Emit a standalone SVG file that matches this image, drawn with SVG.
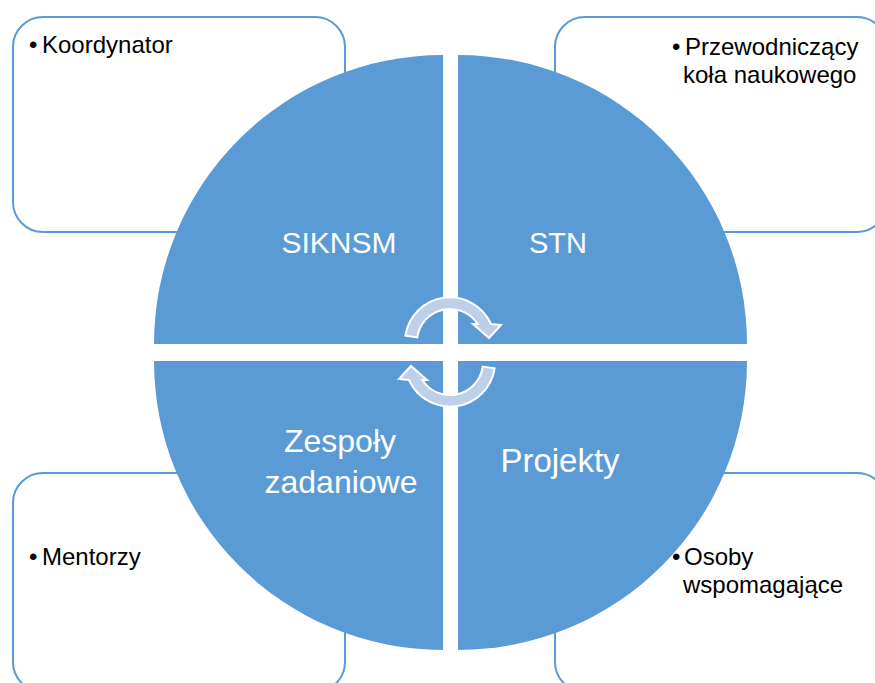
<svg xmlns="http://www.w3.org/2000/svg" width="875" height="683" viewBox="0 0 875 683">
  <style>
    .box { fill: #ffffff; stroke: #5b9bd5; stroke-width: 2; }
    .quad { fill: #5b9bd5; }
    .btxt { font-family: "Liberation Sans", Arial, sans-serif; font-size: 24px; fill: #000000; }
    .qtxt { font-family: "Liberation Sans", Arial, sans-serif; fill: #ffffff; text-anchor: middle; }
    .arrow { fill: #bdd0ea; stroke: #ffffff; stroke-width: 2; stroke-linejoin: miter; }
  </style>
  <defs>
    <path id="cycArrow" d="M 405.4,335.7 A 45 45 0 0 1 491,324 L 501,325 L 489,338 L 473,324 L 477.7,324 A 33 33 0 0 0 417.3,337.4 Z"/>
  </defs>
  <rect width="875" height="683" fill="#ffffff"/>

  <g id="box-koordynator">
    <rect class="box" x="13" y="17" width="332" height="215" rx="30" ry="30"/>
    <text class="btxt" y="53"><tspan x="29">•</tspan><tspan x="42">Koordynator</tspan></text>
  </g>
  <g id="box-przewodniczacy">
    <rect class="box" x="555" y="17" width="332" height="215" rx="30" ry="30"/>
    <text class="btxt" y="55"><tspan x="672">•</tspan><tspan x="685">Przewodniczący</tspan><tspan x="683" y="83">koła naukowego</tspan></text>
  </g>
  <g id="box-mentorzy">
    <rect class="box" x="13" y="473" width="332" height="219" rx="30" ry="30"/>
    <text class="btxt" y="565"><tspan x="29">•</tspan><tspan x="42">Mentorzy</tspan></text>
  </g>
  <g id="box-osoby">
    <rect class="box" x="555" y="473" width="332" height="219" rx="30" ry="30"/>
    <text class="btxt" y="565"><tspan x="672">•</tspan><tspan x="684">Osoby</tspan><tspan x="683" y="593">wspomagające</tspan></text>
  </g>

  <g id="q-siknsm">
    <path class="quad" d="M 443,344 L 154,344 A 289 289 0 0 1 443,55 Z"/>
    <text class="qtxt" x="339" y="253" font-size="30">SIKNSM</text>
  </g>
  <g id="q-stn">
    <path class="quad" d="M 458,344 L 458,55 A 289 289 0 0 1 747,344 Z"/>
    <text class="qtxt" x="558" y="253" font-size="29">STN</text>
  </g>
  <g id="q-zespoly">
    <path class="quad" d="M 443,361 L 443,650 A 289 289 0 0 1 154,361 Z"/>
    <text class="qtxt" font-size="32"><tspan x="340" y="452">Zespoły</tspan><tspan x="341" y="493">zadaniowe</tspan></text>
  </g>
  <g id="q-projekty">
    <path class="quad" d="M 458,361 L 747,361 A 289 289 0 0 1 458,650 Z"/>
    <text class="qtxt" x="560" y="472" font-size="33">Projekty</text>
  </g>

  <g id="connectors">
    <use href="#cycArrow" class="arrow"/>
    <use href="#cycArrow" class="arrow" transform="rotate(180 450 352)"/>
  </g>
</svg>
